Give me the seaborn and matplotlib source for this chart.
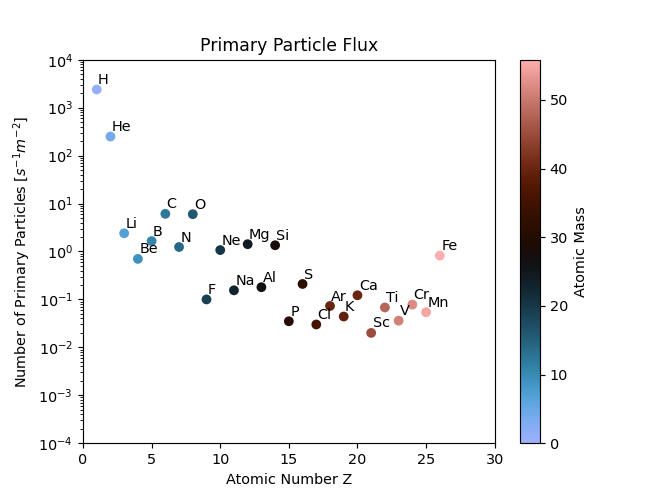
import matplotlib
matplotlib.use("Agg")
import matplotlib.pyplot as plt
import seaborn as sns
import numpy as np
import pandas as pd

elements = ["H", "He", "Li", "Be", "B", "C", "N", "O", "F", "Ne", "Na", "Mg", "Al",
            "Si", "P", "S", "Cl", "Ar", "K", "Ca", "Sc", "Ti", "V", "Cr", "Mn", "Fe"]
atomic_number = [1, 2, 3, 4, 5, 6, 7, 8, 9, 10, 11, 12, 13,
                 14, 15, 16, 17, 18, 19, 20, 21, 22, 23, 24, 25, 26]
atomic_mass = [1.008, 4.003, 6.94, 9.012, 10.81, 12.011, 14.007, 15.999, 18.998, 20.180,
               22.990, 24.305, 26.982, 28.085, 30.974, 32.06, 35.45, 39.948, 39.098,
               40.078, 44.956, 47.867, 50.942, 51.996, 54.938, 55.845]
flux = [2400, 250, 2.4, 0.70, 1.65, 6.1, 1.24, 6.0, 0.10, 1.07, 0.155, 1.42, 0.18,
        1.35, 0.035, 0.21, 0.030, 0.073, 0.044, 0.122, 0.020, 0.068, 0.036, 0.078,
        0.054, 0.82]

df = pd.DataFrame({"Z": atomic_number, "flux": flux, "mass": atomic_mass, "el": elements})

fig, ax = plt.subplots(figsize=(6.4, 4.8), dpi=103.75)
vmax = max(atomic_mass)
sns.scatterplot(data=df, x="Z", y="flux", hue="mass", palette="berlin",
                hue_norm=(0, vmax), s=46, linewidth=0, legend=False, ax=ax)
ax.set_yscale("log")
for z, f, name in zip(atomic_number, flux, elements):
    ax.text(z + 0.1, f * 1.3, name, fontsize=10)

ax.set_xlim(0, 30)
ax.set_ylim(1e-4, 1e4)
ax.set_yticks([10.0 ** k for k in range(-4, 5)])
ax.set_xlabel("Atomic Number Z")
ax.set_ylabel(r"Number of Primary Particles [$s^{-1} m^{-2}$]")
ax.set_title("Primary Particle Flux")

sm = plt.cm.ScalarMappable(cmap="berlin", norm=plt.Normalize(0, vmax))
sm.set_array([])
cbar = fig.colorbar(sm, ax=ax)
cbar.set_label("Atomic Mass")

fig.savefig("out.png", dpi=103.75)
